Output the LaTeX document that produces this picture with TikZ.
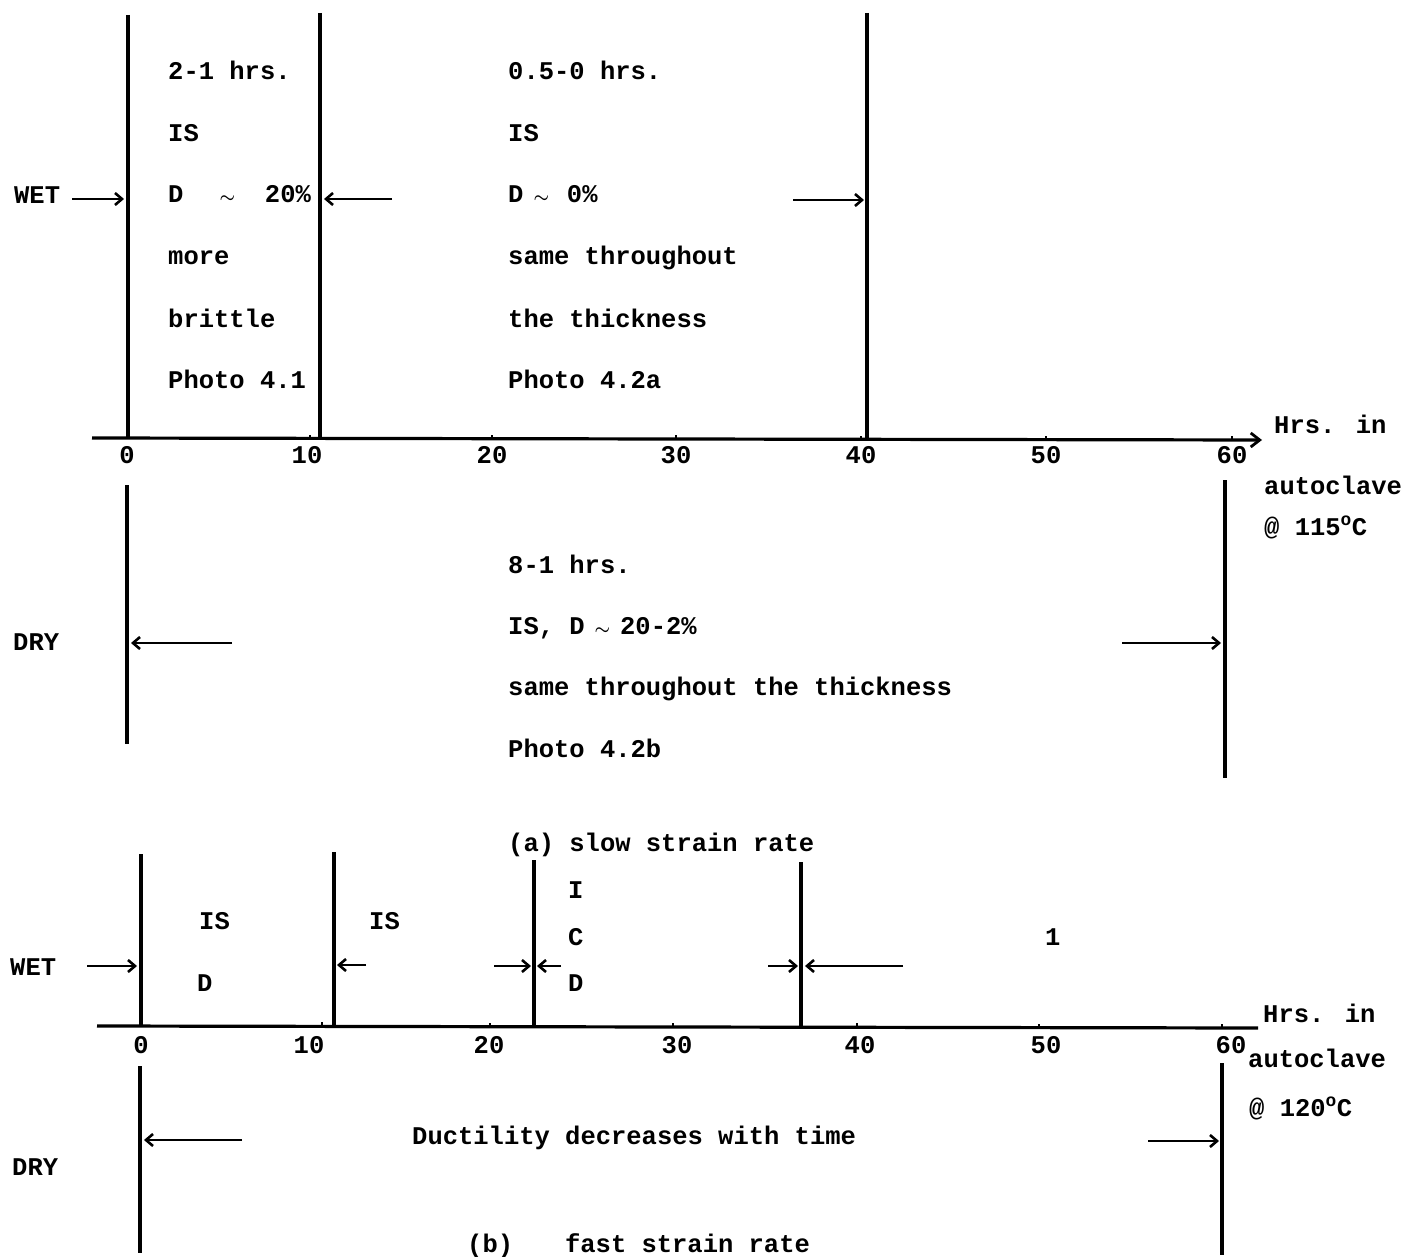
\documentclass[tikz,border=0pt]{standalone}
\usepackage{amsmath}
\usepackage{fontspec}
\setmainfont{Liberation Mono}
\usetikzlibrary{arrows.meta}
\newcommand{\smtilde}{{\fontsize{17}{17}\selectfont$\boldsymbol{\sim}$}}
\begin{document}
\begin{tikzpicture}[x=1pt,y=-1pt,
  txt/.style={anchor=base west, inner sep=0pt, font=\fontsize{25.5}{30}\selectfont\bfseries},
  lbl/.style={anchor=base, inner sep=0pt, font=\fontsize{25.5}{30}\selectfont\bfseries},
  vline/.style={line width=3.2pt},
  axisline/.style={line width=3.2pt},
  tickmark/.style={line width=2pt},
  arr/.style={line width=2.8pt, -{Straight Barb[length=7pt,width=12pt,line width=2.6pt]}}]
\useasboundingbox (0,0) rectangle (1403,1257);

% ================= (a) slow strain rate =================
\coordinate (axAs) at (92,438);
\coordinate (axAe) at (1262,440);
\draw[axisline,-{Straight Barb[length=9pt,width=14pt,line width=2.8pt]}] (axAs) -- (axAe);
\foreach \xx/\yy [count=\i] in {127/438, 310/439, 492/439, 676/439, 861/440, 1046/440, 1232/440}{
  \coordinate (tA\i) at (\xx,\yy);
  \draw[tickmark] (tA\i) -- ++(0,-4);
}
\node[lbl] (la0) at (127,463) {0};
\node[lbl] (la10) at (307,463) {10};
\node[lbl] (la20) at (492,463) {20};
\node[lbl] (la30) at (676,463) {30};
\node[lbl] (la40) at (861,463) {40};
\node[lbl] (la50) at (1046,463) {50};
\node[lbl] (la60) at (1232,463) {60};
\node[txt] (hrsA) at (1274,433) {Hrs. in};
\node[txt] (autoA) at (1264,494) {autoclave};
\node[txt] (tempA) at (1264,535) {@ 115\textsuperscript{o}C};

\coordinate (wA1t) at (128,15);  \coordinate (wA1b) at (128,438);
\coordinate (wA2t) at (320,13);  \coordinate (wA2b) at (320,439);
\coordinate (wA3t) at (867,13);  \coordinate (wA3b) at (867,440);
\draw[vline] (wA1t) -- (wA1b);
\draw[vline] (wA2t) -- (wA2b);
\draw[vline] (wA3t) -- (wA3b);

\node[txt] (wetA) at (14,204) {WET};
\coordinate (aA1s) at (72,199);  \coordinate (aA1e) at (124,199);
\coordinate (aA2s) at (392,199); \coordinate (aA2e) at (324,199);
\coordinate (aA3s) at (793,200); \coordinate (aA3e) at (864,200);
\draw[arr] (aA1s) -- (aA1e);
\draw[arr] (aA2s) -- (aA2e);
\draw[arr] (aA3s) -- (aA3e);

\node[txt] (c1l1) at (168,80)  {2-1 hrs.};
\node[txt] (c1l2) at (168,142) {IS};
\node[txt] (c1l3) at (168,203) {D\hspace{36pt}\smtilde\hspace{30pt}20\%};
\node[txt] (c1l4) at (168,265) {more};
\node[txt] (c1l5) at (168,327) {brittle};
\node[txt] (c1l6) at (168,388) {Photo 4.1};

\node[txt] (c2l1) at (508,80)  {0.5-0 hrs.};
\node[txt] (c2l2) at (508,142) {IS};
\node[txt] (c2l3) at (508,203) {D\hspace{10pt}\smtilde\hspace{18pt}0\%};
\node[txt] (c2l4) at (508,265) {same throughout};
\node[txt] (c2l5) at (508,327) {the thickness};
\node[txt] (c2l6) at (508,388) {Photo 4.2a};

\coordinate (dA1t) at (127,485);  \coordinate (dA1b) at (127,744);
\coordinate (dA2t) at (1225,480); \coordinate (dA2b) at (1225,778);
\draw[vline] (dA1t) -- (dA1b);
\draw[vline] (dA2t) -- (dA2b);
\node[txt] (dryA) at (13,650) {DRY};
\coordinate (aA4s) at (232,643);  \coordinate (aA4e) at (131,643);
\coordinate (aA5s) at (1122,643); \coordinate (aA5e) at (1221,643);
\draw[arr] (aA4s) -- (aA4e);
\draw[arr] (aA5s) -- (aA5e);

\node[txt] (c3l1) at (508,573) {8-1 hrs.};
\node[txt] (c3l2) at (508,634) {IS, D\hspace{10pt}\smtilde\hspace{10pt}20-2\%};
\node[txt] (c3l3) at (508,695) {same throughout the thickness};
\node[txt] (c3l4) at (508,757) {Photo 4.2b};

\node[txt] (capA) at (508,851) {(a) slow strain rate};

% ================= (b) fast strain rate =================
\coordinate (axBs) at (97,1026);
\coordinate (axBe) at (1258,1028);
\draw[axisline] (axBs) -- (axBe);
\foreach \xx/\yy [count=\i] in {141/1026, 322/1026, 490/1027, 673/1027, 857/1027, 1039/1028, 1222/1028}{
  \coordinate (tB\i) at (\xx,\yy);
  \draw[tickmark] (tB\i) -- ++(0,-4);
}
\node[lbl] (lb0) at (141,1053) {0};
\node[lbl] (lb10) at (309,1053) {10};
\node[lbl] (lb20) at (489,1053) {20};
\node[lbl] (lb30) at (677,1053) {30};
\node[lbl] (lb40) at (860,1053) {40};
\node[lbl] (lb50) at (1046,1053) {50};
\node[lbl] (lb60) at (1231,1053) {60};
\node[txt] (hrsB) at (1263,1022) {Hrs. in};
\node[txt] (autoB) at (1248,1067) {autoclave};
\node[txt] (tempB) at (1249,1116) {@ 120\textsuperscript{o}C};

\coordinate (wB1t) at (141,854); \coordinate (wB1b) at (141,1026);
\coordinate (wB2t) at (334,852); \coordinate (wB2b) at (334,1026);
\coordinate (wB3t) at (534,860); \coordinate (wB3b) at (534,1027);
\coordinate (wB4t) at (801,862); \coordinate (wB4b) at (801,1027);
\draw[vline] (wB1t) -- (wB1b);
\draw[vline] (wB2t) -- (wB2b);
\draw[vline] (wB3t) -- (wB3b);
\draw[vline] (wB4t) -- (wB4b);

\node[txt] (wetB) at (10,975) {WET};
\coordinate (aB1s) at (87,966);  \coordinate (aB1e) at (137,966);
\coordinate (aB2s) at (366,965); \coordinate (aB2e) at (337,965);
\coordinate (aB3s) at (494,966); \coordinate (aB3e) at (531,966);
\coordinate (aB4s) at (561,966); \coordinate (aB4e) at (537,966);
\coordinate (aB5s) at (768,966); \coordinate (aB5e) at (798,966);
\coordinate (aB6s) at (903,966); \coordinate (aB6e) at (805,966);
\foreach \i in {1,...,6}{ \draw[arr] (aB\i s) -- (aB\i e); }

\node[txt] (b1l1) at (199,929) {IS};
\node[txt] (b1l2) at (197,991) {D};
\node[txt] (b2l1) at (369,929) {IS};
\node[txt] (b3l1) at (568,898) {I};
\node[txt] (b3l2) at (568,945) {C};
\node[txt] (b3l3) at (568,991) {D};
\node[txt] (b4l1) at (1045,945) {1};

\coordinate (dB1t) at (140,1066);  \coordinate (dB1b) at (140,1253);
\coordinate (dB2t) at (1222,1063); \coordinate (dB2b) at (1222,1255);
\draw[vline] (dB1t) -- (dB1b);
\draw[vline] (dB2t) -- (dB2b);
\node[txt] (dryB) at (12,1175) {DRY};
\coordinate (aB7s) at (242,1140);  \coordinate (aB7e) at (144,1140);
\coordinate (aB8s) at (1148,1141); \coordinate (aB8e) at (1219,1141);
\draw[arr] (aB7s) -- (aB7e);
\draw[arr] (aB8s) -- (aB8e);

\node[txt] (duct) at (412,1144) {Ductility decreases with time};
\node[txt] (capB) at (467,1252) {(b)\hspace{52pt}fast strain rate};
\end{tikzpicture}
\end{document}
